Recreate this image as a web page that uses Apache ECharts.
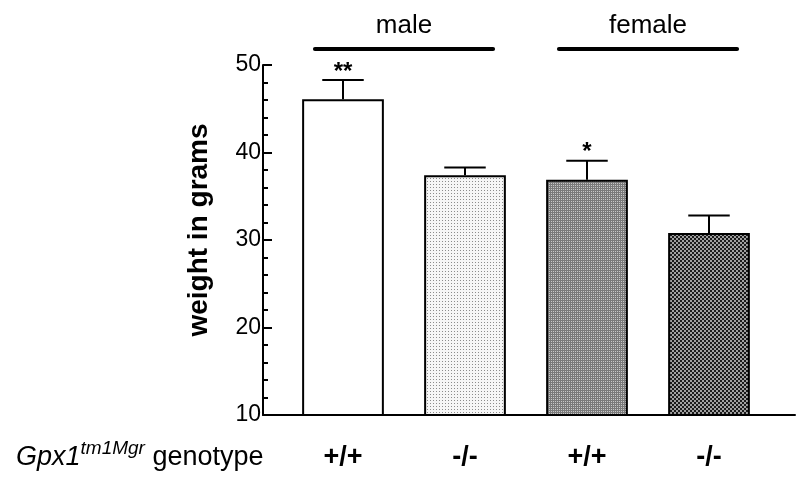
<!DOCTYPE html>
<html><head><meta charset="utf-8">
<script src="https://cdn.jsdelivr.net/npm/echarts@6/dist/echarts.min.js"></script>
<style>html,body{margin:0;padding:0;background:#fff}#c{width:800px;height:484px}</style>
</head><body><div id="c"></div>
<script>
// ---- data ----
const categories = ['+/+', '-/-', '+/+', '-/-'];
const meanWeight = [46.1, 37.4, 36.9, 30.8];
const semWeight = [2.2, 0.9, 2.15, 2.0];
const significance = ['**', '', '*', ''];
const groupNames = ['male', 'female'];
const groupFirst = [0, 2];
const groupLast = [1, 3];
const yMin = 10, yMax = 50, yStep = 10;

// ---- fill patterns ----
function pattern(size, draw) {
  const c = document.createElement('canvas');
  c.width = c.height = size;
  draw(c.getContext('2d'));
  return c;
}
const dotPat = pattern(3, g => { g.fillStyle = '#f6f6f6'; g.fillRect(0,0,3,3); g.fillStyle = '#8c8c8c'; g.fillRect(1,1,1,1); });
const meshPat = pattern(2, g => { g.fillStyle = '#7a7a7a'; g.fillRect(0,0,2,2); g.fillStyle = '#c8c8c8'; g.fillRect(1,1,1,1); });
const checkPat = pattern(4, g => { g.fillStyle = '#a0a0a0'; g.fillRect(0,0,4,4); g.fillStyle = '#1a1a1a'; g.fillRect(0,0,2,2); g.fillRect(2,2,2,2); });
const fills = ['#ffffff', {image: dotPat, repeat: 'repeat'}, {image: meshPat, repeat: 'repeat'}, {image: checkPat, repeat: 'repeat'}];

const FONT = "'Liberation Sans', Arial, Helvetica, sans-serif";
const chart = echarts.init(document.getElementById('c'), null, {renderer: 'canvas'});

chart.setOption({
  animation: false,
  backgroundColor: '#ffffff',
  title: {
    left: 11, top: 434,
    text: '{it|Gpx1}{sup|tm1Mgr}{rg| genotype}',
    textStyle: {
      fontWeight: 'normal',
      rich: {
        it: {fontFamily: FONT, fontStyle: 'italic', fontWeight: 'normal', fontSize: 27, color: '#000', verticalAlign: 'bottom', lineHeight: 32},
        sup: {fontFamily: FONT, fontStyle: 'italic', fontWeight: 'normal', fontSize: 19, color: '#000', verticalAlign: 'top', lineHeight: 32},
        rg: {fontFamily: FONT, fontWeight: 'normal', fontSize: 27, color: '#000', verticalAlign: 'bottom', lineHeight: 32}
      }
    }
  },
  grid: [
    {left: 282, right: 30, top: 65, bottom: 69},
    {left: 263, right: 5, top: 65, bottom: 69}
  ],
  xAxis: [
    {
      type: 'category', gridIndex: 0, data: categories,
      axisLine: {show: false}, axisTick: {show: false},
      axisLabel: {fontFamily: FONT, fontWeight: 'bold', fontSize: 27, color: '#000', margin: 29}
    },
    {
      type: 'value', gridIndex: 1, min: 0, max: 1,
      axisLine: {show: true, lineStyle: {color: '#000', width: 2}},
      axisTick: {show: false}, axisLabel: {show: false}, splitLine: {show: false}
    }
  ],
  yAxis: [
    {
      type: 'value', gridIndex: 0, min: yMin, max: yMax, interval: yStep, offset: 19,
      name: 'weight in grams', nameLocation: 'middle', nameGap: 50,
      nameTextStyle: {fontFamily: FONT, fontWeight: 'bold', fontSize: 28, color: '#000', padding: [0, 0, 0, 20]},
      axisLine: {show: true, lineStyle: {color: '#000', width: 2}},
      axisTick: {show: true, inside: true, length: 9, lineStyle: {color: '#000', width: 2}},
      minorTick: {show: true, splitNumber: 5, length: 5, lineStyle: {color: '#000', width: 2}},
      axisLabel: {fontFamily: FONT, fontSize: 23, color: '#000', margin: 2},
      splitLine: {show: false}
    },
    {
      type: 'value', gridIndex: 1, min: 0, max: 1, show: false
    }
  ],
  series: [
    {
      type: 'bar', xAxisIndex: 0, yAxisIndex: 0, barWidth: '67%',
      data: meanWeight.map((v, i) => ({value: v, itemStyle: {color: fills[i]}})),
      itemStyle: {borderColor: '#000', borderWidth: 2},
      silent: true
    },
    {
      type: 'custom', xAxisIndex: 0, yAxisIndex: 0, silent: true, z: 3,
      data: meanWeight.map((v, i) => [i, v, semWeight[i]]),
      renderItem: function (params, api) {
        const i = api.value(0), m = api.value(1), s = api.value(2);
        const base = api.coord([i, m]);
        const top = api.coord([i, m + s]);
        const hw = api.size([1, 0])[0] * 0.17;
        const st = {stroke: '#000', lineWidth: 2};
        const children = [
          {type: 'line', shape: {x1: base[0], y1: base[1], x2: top[0], y2: top[1]}, style: st},
          {type: 'line', shape: {x1: top[0] - hw, y1: top[1], x2: top[0] + hw, y2: top[1]}, style: st}
        ];
        const sig = significance[params.dataIndex];
        if (sig) {
          children.push({type: 'text', style: {text: sig, x: top[0], y: top[1] + 4, align: 'center', verticalAlign: 'bottom',
            font: 'bold 24px ' + FONT, fill: '#000'}});
        }
        return {type: 'group', children: children};
      }
    },
    {
      type: 'custom', xAxisIndex: 0, yAxisIndex: 0, silent: true, clip: false,
      encode: {x: [0, 1]},
      data: groupNames.map((n, k) => [groupFirst[k], groupLast[k]]),
      renderItem: function (params, api) {
        const a = api.coord([api.value(0), yMax]);
        const b = api.coord([api.value(1), yMax]);
        const ext = api.size([1, 0])[0] * 0.23;
        const y = a[1] - 16;
        return {type: 'group', children: [
          {type: 'line', shape: {x1: a[0] - ext, y1: y, x2: b[0] + ext, y2: y}, style: {stroke: '#000', lineWidth: 4, lineCap: 'round'}},
          {type: 'text', style: {text: groupNames[params.dataIndex], x: (a[0] + b[0]) / 2, y: y - 10, align: 'center', verticalAlign: 'bottom',
            font: '26px ' + FONT, fill: '#000'}}
        ]};
      }
    }
  ]
});
</script>
</body></html>
